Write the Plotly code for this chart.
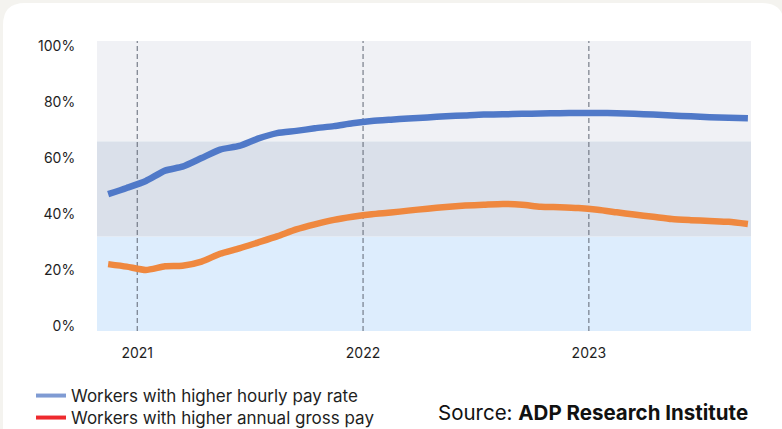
import plotly.graph_objects as go
import pandas as pd

# monthly readings, Nov 2020 - Sep 2023 (mid-month)
months = pd.date_range('2020-11-01', periods=35, freq='MS') + pd.Timedelta(days=14)
hourly_pay = [47.1, 49.3, 51.8, 55.5, 56.9, 60.0, 63.0, 64.3, 66.9, 68.9,
              69.7, 70.6, 71.4, 72.4, 73.2, 73.7, 74.1, 74.5, 74.9, 75.2,
              75.5, 75.6, 75.8, 75.9, 76.0, 76.1, 76.1, 76.0, 75.8, 75.5,
              75.2, 74.9, 74.6, 74.4, 74.2]
annual_pay = [22.1, 21.2, 20.0, 21.3, 21.5, 23.0, 25.8, 27.7, 29.8, 32.0,
              34.5, 36.3, 37.9, 39.0, 39.9, 40.5, 41.2, 41.9, 42.5, 43.0,
              43.3, 43.6, 43.3, 42.6, 42.4, 42.1, 41.5, 40.6, 39.8, 39.0,
              38.2, 37.8, 37.5, 37.2, 36.4]
series_names = ['Workers with higher hourly pay rate', 'Workers with higher annual gross pay']
line_colors = ['#5079C8', '#EF883F']
legend_colors = ['#7F9BD3', '#EE2A2E']
year_marks = ['2021-01-01', '2022-01-01', '2023-01-01']
year_labels = ['2021', '2022', '2023']
y_ticks = [0, 20, 40, 60, 80, 100]
y_labels = ['0%', '20%', '40%', '60%', '80%', '100%']
bands = [(-2, 32, '#DDEDFD'), (32, 66, '#DAE0EA'), (66, 102, '#F0F1F5')]

FONT = 'Inter, Roboto, sans-serif'
W, H = 782, 429
L, R, T, B = 97, 31, 41, 98
pw, ph = W - L - R, H - T - B


def px(x):
    return (x - L) / pw


def py(y):
    return (H - B - y) / ph


fig = go.Figure()

for vals, name, color in zip([hourly_pay, annual_pay], series_names, line_colors):
    fig.add_trace(go.Scatter(x=months, y=vals, mode='lines', name=name,
                             line=dict(color=color, width=6.5, shape='spline', smoothing=0.6),
                             showlegend=False))

# legend swatches use their own colours in the original; one legend per row
legend_ids = ['legend', 'legend2']
for name, color, lg in zip(series_names, legend_colors, legend_ids):
    fig.add_trace(go.Scatter(x=[None], y=[None], mode='lines', name=name, legend=lg,
                             line=dict(color=color, width=4)))

# card background with rounded top corners
x0, x1, yt, yb = px(3), px(784), py(3), py(470)
rx, ry = 22 / pw, 22 / ph
card = (f'M {x0},{yb} L {x0},{yt - ry} Q {x0},{yt} {x0 + rx},{yt} '
        f'L {x1 - rx},{yt} Q {x1},{yt} {x1},{yt - ry} L {x1},{yb} Z')
shapes = [dict(type='path', path=card, xref='paper', yref='paper',
               fillcolor='white', line=dict(width=0), layer='below')]
for lo, hi, c in bands:
    shapes.append(dict(type='rect', xref='paper', yref='y', x0=0, x1=1, y0=lo, y1=hi,
                       fillcolor=c, line=dict(width=0), layer='below'))
for d in year_marks:
    shapes.append(dict(type='line', xref='x', yref='paper', x0=d, x1=d, y0=0, y1=1,
                       line=dict(color='#5F6673', width=1, dash='5px,3px'), layer='below'))

legend_style = dict(x=px(31), xanchor='left', yanchor='middle', bgcolor='rgba(0,0,0,0)',
                    font=dict(size=17, color='#1E1E1E'))

fig.update_layout(
    width=W, height=H,
    margin=dict(l=L, r=R, t=T, b=B, autoexpand=False),
    paper_bgcolor='#F4F3EF',
    plot_bgcolor='rgba(0,0,0,0)',
    font=dict(family=FONT, color='#1E1E1E', size=14),
    shapes=shapes,
    showlegend=True,
    legend=dict(y=py(396), **legend_style),
    legend2=dict(y=py(418), **legend_style),
    annotations=[dict(text='Source: <b>ADP Research Institute</b>', xref='paper', yref='paper',
                      x=px(750), y=py(413), xanchor='right', yanchor='middle',
                      showarrow=False, font=dict(size=20.5, color='#111111'))],
)
fig.update_xaxes(type='date', range=['2020-10-28', '2023-09-20'],
                 tickvals=year_marks, ticktext=year_labels,
                 showgrid=False, zeroline=False, showline=False,
                 ticks='outside', ticklen=9, tickcolor='rgba(0,0,0,0)')
fig.update_yaxes(range=[-1.8, 101.8], tickvals=y_ticks, ticktext=y_labels,
                 showgrid=False, zeroline=False, showline=False,
                 ticks='outside', ticklen=18, tickcolor='rgba(0,0,0,0)')

fig.write_html('out.html', config={'displayModeBar': False},
               post_script="document.body.style.margin='0';")
